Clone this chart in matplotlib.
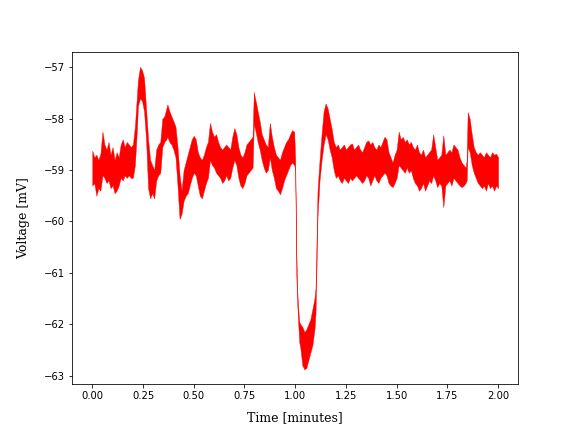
import numpy as np
import matplotlib
matplotlib.use("Agg")
import matplotlib.pyplot as plt

# Envelope of the voltage trace (time in minutes, mV)
time_min = [
    0.00, 0.01, 0.02, 0.03, 0.04, 0.05, 0.06, 0.07, 0.08, 0.09,
    0.10, 0.11, 0.12, 0.13, 0.14, 0.15, 0.16, 0.17, 0.18, 0.19,
    0.20, 0.21, 0.22, 0.225, 0.235, 0.245, 0.255, 0.265, 0.275, 0.285,
    0.295, 0.305, 0.315, 0.325, 0.335, 0.345, 0.355, 0.365, 0.37, 0.38,
    0.39, 0.40, 0.41, 0.42, 0.43, 0.44, 0.45, 0.46, 0.47, 0.48,
    0.49, 0.50, 0.51, 0.52, 0.53, 0.54, 0.55, 0.56, 0.57, 0.58,
    0.59, 0.60, 0.61, 0.62, 0.63, 0.64, 0.65, 0.66, 0.67, 0.68,
    0.69, 0.70, 0.71, 0.72, 0.73, 0.74, 0.75, 0.76, 0.77, 0.78,
    0.79, 0.796, 0.805, 0.815, 0.825, 0.835, 0.845, 0.855, 0.865, 0.875,
    0.885, 0.895, 0.905, 0.915, 0.925, 0.935, 0.945, 0.955, 0.965, 0.975,
    0.985, 0.995, 1.000, 1.005, 1.010, 1.015, 1.020, 1.025, 1.035, 1.045,
    1.055, 1.065, 1.075, 1.085, 1.095, 1.100, 1.105, 1.110, 1.120, 1.130,
    1.140, 1.150, 1.160, 1.170, 1.180, 1.190, 1.200, 1.210, 1.22, 1.23,
    1.24, 1.25, 1.26, 1.27, 1.28, 1.29, 1.30, 1.31, 1.32, 1.33,
    1.34, 1.35, 1.36, 1.37, 1.38, 1.39, 1.40, 1.41, 1.42, 1.43,
    1.44, 1.45, 1.46, 1.47, 1.48, 1.49, 1.50, 1.51, 1.52, 1.53,
    1.54, 1.55, 1.56, 1.57, 1.58, 1.59, 1.60, 1.61, 1.62, 1.63,
    1.64, 1.65, 1.66, 1.67, 1.68, 1.69, 1.70, 1.71, 1.72, 1.73,
    1.74, 1.75, 1.76, 1.77, 1.78, 1.79, 1.80, 1.81, 1.82, 1.83,
    1.84, 1.845, 1.85, 1.86, 1.87, 1.88, 1.89, 1.90, 1.91, 1.92,
    1.93, 1.94, 1.95, 1.96, 1.97, 1.98, 1.99, 2.00,
]
v_high = [
    -58.62, -58.75, -58.70, -58.80, -58.68, -58.25, -58.50, -58.60, -58.45, -58.70,
    -58.55, -58.80, -58.65, -58.75, -58.50, -58.40, -58.55, -58.45, -58.50, -58.55,
    -58.50, -58.15, -57.55, -57.25, -56.99, -57.05, -57.20, -57.80, -58.40, -58.80,
    -58.90, -59.00, -58.60, -58.50, -58.45, -58.00, -57.95, -57.80, -57.72, -57.85,
    -57.95, -58.05, -58.15, -58.55, -59.10, -59.40, -59.00, -58.85, -58.70, -58.55,
    -58.40, -58.33, -58.40, -58.65, -58.75, -58.80, -58.70, -58.55, -58.45, -58.08,
    -58.25, -58.35, -58.30, -58.45, -58.55, -58.60, -58.55, -58.50, -58.55, -58.60,
    -58.35, -58.18, -58.30, -58.55, -58.70, -58.75, -58.65, -58.50, -58.45, -58.40,
    -58.35, -57.48, -57.65, -57.85, -58.05, -58.30, -58.40, -58.50, -58.55, -58.08,
    -58.35, -58.55, -58.70, -58.75, -58.80, -58.65, -58.55, -58.45, -58.40, -58.30,
    -58.22, -58.25, -58.80, -60.50, -61.35, -61.70, -61.95, -62.00, -62.05, -62.15,
    -62.10, -62.00, -61.90, -61.70, -61.50, -61.30, -60.40, -59.40, -58.80, -58.30,
    -57.85, -57.70, -57.80, -58.00, -58.20, -58.45, -58.55, -58.50, -58.60, -58.55,
    -58.50, -58.60, -58.55, -58.50, -58.48, -58.60, -58.55, -58.50, -58.60, -58.65,
    -58.55, -58.45, -58.42, -58.50, -58.45, -58.55, -58.60, -58.50, -58.55, -58.45,
    -58.35, -58.40, -58.65, -58.75, -58.85, -58.70, -58.60, -58.25, -58.40, -58.35,
    -58.45, -58.40, -58.50, -58.45, -58.55, -58.60, -58.50, -58.65, -58.70, -58.60,
    -58.75, -58.70, -58.65, -58.60, -58.30, -58.55, -58.80, -58.75, -58.70, -58.32,
    -58.70, -58.65, -58.60, -58.65, -58.50, -58.55, -58.60, -58.75, -58.85, -58.90,
    -58.95, -58.80, -57.87, -58.00, -58.30, -58.55, -58.65, -58.70, -58.65, -58.70,
    -58.75, -58.65, -58.70, -58.75, -58.65, -58.70, -58.68, -58.75,
]
v_low = [
    -59.30, -59.25, -59.50, -59.35, -59.40, -59.10, -59.15, -59.25, -59.20, -59.35,
    -59.30, -59.45, -59.40, -59.30, -59.15, -59.20, -59.10, -59.15, -59.10, -59.15,
    -59.15, -58.90, -58.20, -57.75, -57.60, -57.65, -57.85, -58.40, -59.35, -59.55,
    -59.45, -59.55, -59.20, -59.10, -59.05, -58.55, -58.45, -58.40, -58.35, -58.45,
    -58.50, -58.60, -58.75, -59.30, -59.95, -59.85, -59.60, -59.50, -59.45, -59.30,
    -59.15, -59.05, -59.10, -59.30, -59.50, -59.55, -59.40, -59.25, -59.15, -58.80,
    -58.90, -58.95, -59.05, -59.10, -59.15, -59.25, -59.20, -59.10, -59.20, -59.15,
    -58.95, -58.80, -58.90, -59.15, -59.30, -59.35, -59.25, -59.10, -59.05, -59.00,
    -58.95, -58.10, -58.25, -58.45, -58.60, -58.80, -58.95, -59.05, -59.00, -58.75,
    -59.00, -59.15, -59.35, -59.40, -59.47, -59.35, -59.20, -59.10, -59.00, -58.90,
    -58.85, -58.90, -59.00, -61.00, -61.60, -62.00, -62.35, -62.45, -62.80, -62.88,
    -62.85, -62.70, -62.55, -62.40, -62.10, -61.80, -60.90, -59.90, -59.20, -58.80,
    -58.50, -58.30, -58.40, -58.60, -58.75, -59.00, -59.15, -59.10, -59.20, -59.25,
    -59.15, -59.20, -59.25, -59.15, -59.20, -59.15, -59.10, -59.15, -59.20, -59.25,
    -59.20, -59.10, -59.15, -59.30, -59.20, -59.10, -59.20, -59.25, -59.15, -59.10,
    -59.05, -59.10, -59.25, -59.30, -59.33, -59.25, -59.15, -58.90, -58.95, -59.00,
    -59.05, -58.95, -59.05, -59.00, -59.15, -59.25, -59.30, -59.40, -59.35, -59.25,
    -59.40, -59.30, -59.20, -59.25, -59.10, -59.20, -59.33, -59.25, -59.30, -59.72,
    -59.30, -59.25, -59.20, -59.30, -59.15, -59.20, -59.25, -59.30, -59.33, -59.30,
    -59.25, -59.20, -58.55, -58.65, -58.90, -59.05, -59.15, -59.25, -59.30, -59.35,
    -59.30, -59.40, -59.25, -59.35, -59.30, -59.40, -59.30, -59.35,
]

t = np.array(time_min)
hi = np.array(v_high)
lo = np.array(v_low)

fig, ax = plt.subplots(figsize=(8, 6), dpi=72)
ax.fill_between(t, lo, hi, color="red", linewidth=0.4, edgecolor="red")

# axis labels use a serif face, a bit larger than the tick labels
ax.set_xlabel("Time [minutes]", family="DejaVu Serif", fontsize=12.5, labelpad=10)
ax.set_ylabel("Voltage [mV]", family="DejaVu Serif", fontsize=12.5, labelpad=14)

plt.savefig("out.png", dpi=72)
